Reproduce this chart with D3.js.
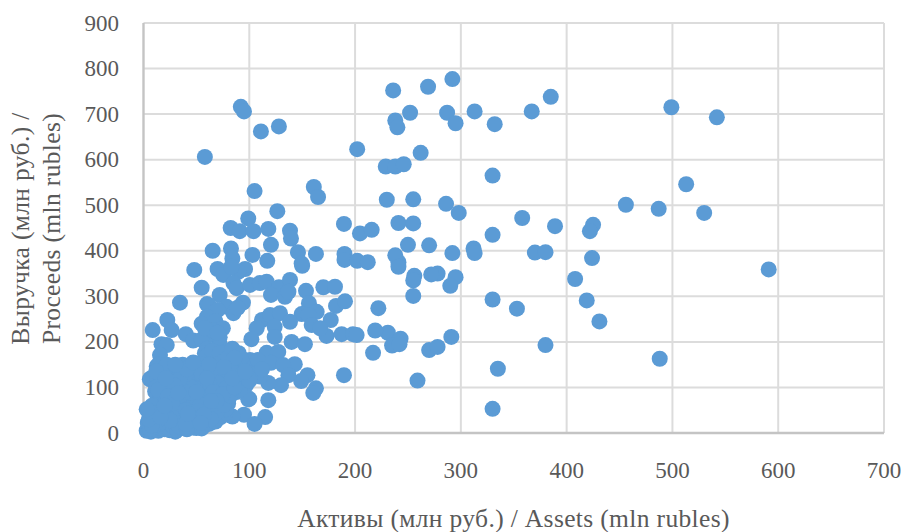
<!DOCTYPE html>
<html><head><meta charset="utf-8">
<script src="https://cdnjs.cloudflare.com/ajax/libs/d3/7.8.5/d3.min.js"></script>
<style>html,body{margin:0;padding:0;background:#fff}svg{display:block}text{font-family:"Liberation Serif",serif;fill:#595959}</style>
</head><body><svg id="c" width="901" height="532"></svg>
<script>
const xTicks=[0,100,200,300,400,500,600,700];
const yTicks=[0,100,200,300,400,500,600,700,800,900];
const xTitle="Активы (млн руб.) / Assets (mln rubles)";
const yTitle=["Выручка (млн руб.) /","Proceeds (mln rubles)"];
const upperPoints=[[92,716],[95,706],[111,662],[128,673],[58,606],[202,623],[236,752],[269,760],[292,777],[252,703],[238,686],[240,671],[287,703],[295,680],[313,706],[332,678],[367,706],[385,738],[499,715],[542,693],[229,585],[238,585],[246,590],[262,615],[330,565],[105,531],[161,540],[165,518],[230,512],[255,513],[286,503],[298,483],[358,472],[389,454],[456,501],[487,492],[513,546],[530,483],[425,457],[422,443],[424,384],[591,359],[408,338],[419,291],[431,245],[380,193],[488,163],[335,141],[330,53],[259,115],[330,293],[353,273],[330,435],[312,405],[313,395],[370,396],[380,397],[292,395],[270,412],[250,413],[241,461],[255,460],[241,375],[238,390],[241,365],[278,350],[272,348],[295,342],[290,323],[256,345],[255,335],[255,301],[231,220],[243,207],[235,192],[242,195],[270,182],[278,189],[291,211]];
const midPoints=[[126.5,487],[99,471],[82.4,450],[91,443],[104,443],[118,448],[138.5,444],[139.4,427],[120.5,413],[65.4,400],[82.7,405],[84,383],[103,391],[117,378],[146,397],[150,367],[149.5,372],[163,393],[70,360],[75.4,347],[96,360],[89.6,354],[83,365],[85,329],[88,318],[55,319],[100.7,325],[110,329],[116.4,332],[128,320],[120.5,303],[138.5,336],[133.7,299],[137,310],[153.6,312],[156.4,285],[163.7,266],[149.5,261],[156,259],[159,237],[170,320],[181,321],[182,279],[190.5,289],[177,248],[173,213],[187.3,217],[198,217],[201.5,215],[167,230],[222,274],[219,225],[217,176],[189.5,127],[189.5,459],[204.6,438],[215.7,446],[190,393],[190,380],[202,378],[212,375],[72,303],[60,283],[94,286],[78.6,277],[85,263],[89,275],[112,248],[107,230],[102,206],[119.6,259],[129,263],[138.5,244],[124,233],[124,211],[140,200],[152.6,195],[116.4,176],[127.4,178],[120.5,154],[143,151],[132,149],[155,127],[149,114],[137,127],[130,105],[163,98],[160.5,88],[118,72],[100,75],[118,110],[100.7,160],[89.6,171],[105,145],[110,124],[115,35],[95,40]];
const edgePoints=[[48,358],[34.5,286],[8.7,226],[22.5,248],[26.6,226],[40,217],[47,203],[17,195],[22,193],[15.6,171],[12.5,146],[6,118],[11,91],[6,54],[5,10],[90,175],[99,74],[84,36],[105,20],[66,25],[50,11],[30,3],[62,280],[70,270],[60,255],[55,240],[68,245],[75,230],[65,215],[55,205],[72,195],[72,210],[60,185]];
const densePoints=[[3,5],[5,12],[7,3],[4,22],[8,28],[10,8],[6,38],[12,18],[14,5],[9,50],[13,33],[16,12],[18,25],[11,62],[15,45],[20,8],[22,18],[17,58],[7,120],[13,122],[12,100],[19,90],[16,75],[23,35],[25,6],[28,14],[24,50],[21,70],[26,88],[18,110],[17,140],[14,150],[30,140],[28,120],[32,100],[30,78],[33,60],[31,42],[34,25],[32,7],[36,15],[38,35],[37,55],[40,72],[36,92],[39,112],[35,130],[37,150],[44,145],[43,125],[42,105],[45,85],[43,65],[46,45],[44,28],[47,12],[50,22],[52,38],[49,58],[51,78],[53,95],[50,115],[48,135],[52,152],[58,175],[60,170],[56,150],[58,130],[55,110],[60,92],[57,72],[59,52],[56,32],[55,10],[62,20],[64,40],[66,60],[63,80],[67,100],[64,120],[66,140],[68,160],[65,180],[72,175],[74,155],[71,135],[75,115],[72,95],[74,75],[71,55],[73,35],[68,25],[78,45],[80,65],[77,85],[81,105],[79,125],[83,145],[80,165],[84,185],[86,125],[84,105],[88,90],[80,70],[78,52],[90,110],[92,125],[96,115],[97,105],[102,130],[70,110],[45,100],[25,105],[35,75],[48,70],[60,65],[62,110],[78,98],[40,130],[55,130],[30,55],[20,40],[15,20],[10,15],[6,8],[8,17],[5,30],[66,225],[58,230],[70,220],[62,150],[22,150],[12,135],[8,60],[6,48],[3,52],[14,95],[33,15],[41,8],[48,30],[44,55],[39,90],[34,118],[54,62],[69,45],[76,62],[82,82],[91,95],[94,130],[88,150],[95,150],[92,165],[108,160],[112,140],[100,115],[86,165],[76,145],[60,120],[66,90],[50,90],[41,140],[29,105],[23,80],[21,120],[27,65],[40,50],[52,48],[64,30],[75,85],[86,100],[69,70],[57,40],[40,20],[25,28],[16,35],[47,155],[30,150],[33,88],[20,60],[54,22],[42,42],[64,70],[84,120],[96,135]];
const points=[...upperPoints,...midPoints,...edgePoints,...densePoints];

const svg=d3.select("#c");
const x=d3.scaleLinear().domain([0,700]).range([143.5,884]);
const y=d3.scaleLinear().domain([0,900]).range([433,23]);
const g=svg.append("g");
g.selectAll("line.gy").data(yTicks.slice(1)).join("line").attr("x1",x(0)).attr("x2",x(700)).attr("y1",d=>y(d)).attr("y2",d=>y(d)).attr("stroke","#dcdcdc").attr("stroke-width",2);
g.selectAll("line.gx").data(xTicks.slice(1)).join("line").attr("y1",y(0)).attr("y2",y(900)).attr("x1",d=>x(d)).attr("x2",d=>x(d)).attr("stroke","#dcdcdc").attr("stroke-width",2);
g.append("line").attr("x1",x(0)).attr("x2",x(0)).attr("y1",y(0)).attr("y2",y(900)).attr("stroke","#c4c4c4").attr("stroke-width",2.4);
g.append("line").attr("x1",x(0)).attr("x2",x(700)).attr("y1",y(0)).attr("y2",y(0)).attr("stroke","#c4c4c4").attr("stroke-width",2.4);
svg.append("g").selectAll("circle").data(points).join("circle").attr("cx",d=>x(d[0])).attr("cy",d=>y(d[1])).attr("r",8).attr("fill","#5b9bd5");
const fs=23, tfs=25.5;
svg.append("g").selectAll("text").data(xTicks).join("text").attr("x",d=>x(d)).attr("y",478).attr("text-anchor","middle").attr("font-size",fs).text(d=>d);
svg.append("g").selectAll("text").data(yTicks).join("text").attr("x",119).attr("y",d=>y(d)+7.5).attr("text-anchor","end").attr("font-size",fs).text(d=>d);
svg.append("text").attr("x",513.5).attr("y",527).attr("text-anchor","middle").attr("font-size",tfs).attr("letter-spacing",0.35).text(xTitle);
svg.append("g").selectAll("text").data(yTitle).join("text").attr("transform",(d,i)=>`translate(${29+i*31},228.5) rotate(-90)`).attr("text-anchor","middle").attr("font-size",tfs).attr("letter-spacing",0.35).text(d=>d);
</script></body></html>
